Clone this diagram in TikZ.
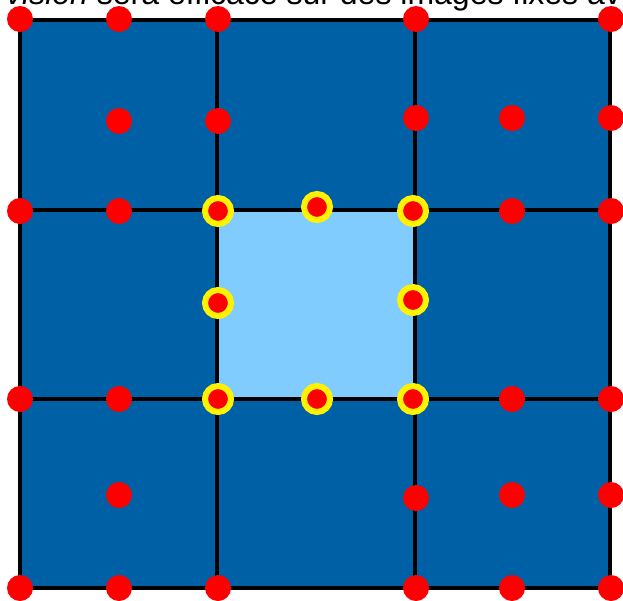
\documentclass[tikz,border=0pt]{standalone}
\usepackage{fontspec}
\setmainfont{Liberation Sans}
\definecolor{darkblue}{RGB}{0,96,165}
\definecolor{lightblue}{RGB}{128,204,255}
\begin{document}
\begin{tikzpicture}[x=1pt,y=-1pt,
  reddot/.style={circle,fill=red,inner sep=0pt,minimum size=26pt},
  ringdot/.style={circle,fill=red,draw=yellow,line width=6pt,inner sep=0pt,minimum size=26pt},
  gridline/.style={line width=4pt,black}]
\useasboundingbox (0,0) rectangle (623,600);
\fill[white] (0,0) rectangle (623,600);
\node[anchor=base west,inner sep=0pt,font=\fontsize{32}{38}\selectfont] (caption) at (6,4.5) {\textit{vision} sera efficace sur des images fixes av};
% cells
\fill[darkblue] (20,20) rectangle (610,588);
\fill[lightblue] (217,210) rectangle (415,399);
% grid
\draw[gridline] (20,20) rectangle (610,588);
\draw[gridline] (217,20) -- (217,588);
\draw[gridline] (415,20) -- (415,588);
\draw[gridline] (20,210) -- (610,210);
\draw[gridline] (20,399) -- (610,399);
% plain red dots
\foreach \x/\y [count=\i] in {20/19,119/19,218/19,416/19,611/19,
  119/121,218/121,416/118,512/118,611/118,
  20/211,119/211,512/211,611/211,
  20/399,119/399,512/399,611/399,
  119/495,416/498,512/495,611/495,
  20/588,119/588,218/588,416/588,512/588,611/588}
  \node[reddot] (r\i) at (\x,\y) {};
% ringed dots around the centre square
\foreach \x/\y [count=\i] in {218/211,317/207,413/211,218/303,413/300,218/399,317/399,413/399}
  \node[ringdot] (y\i) at (\x,\y) {};
\end{tikzpicture}
\end{document}
